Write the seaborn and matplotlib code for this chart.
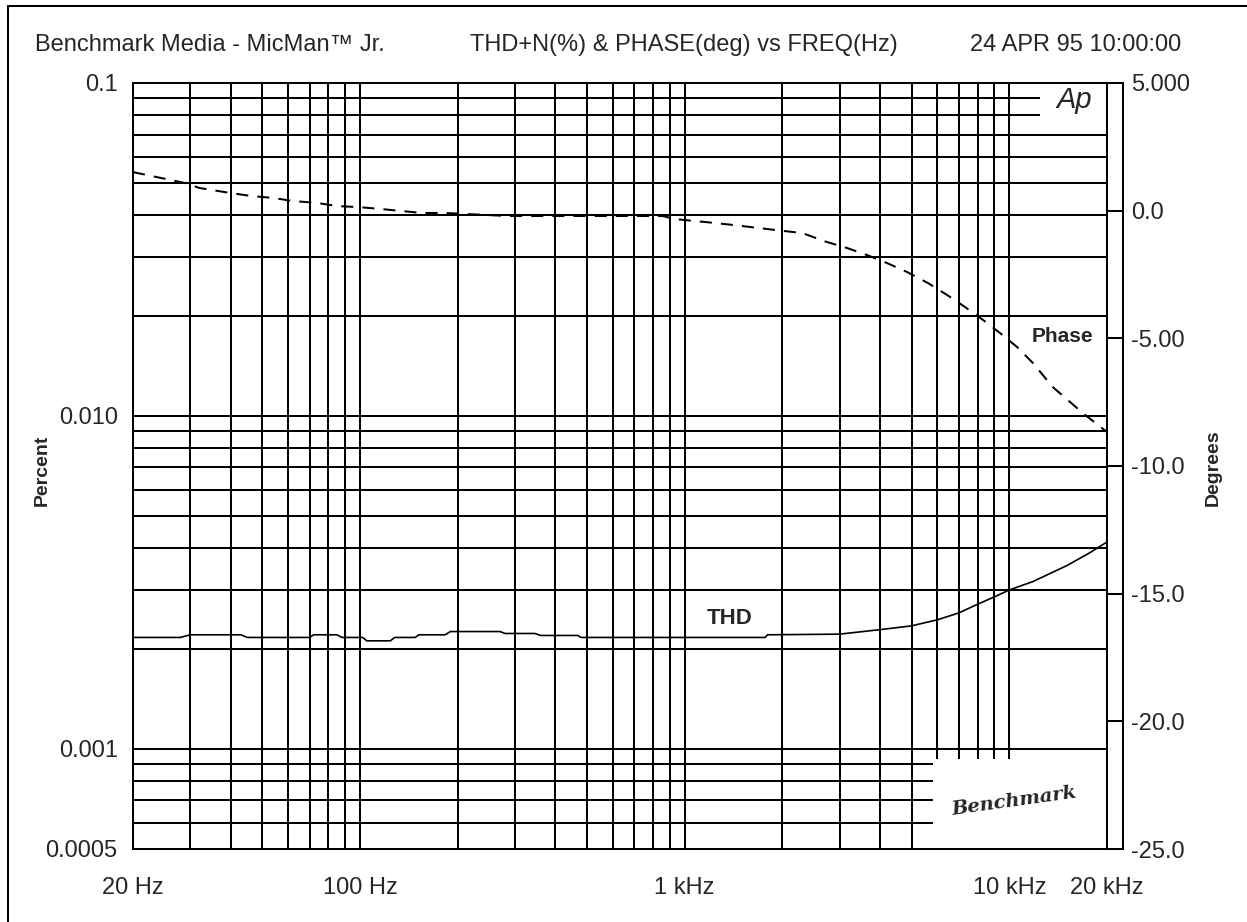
import numpy as np
import pandas as pd
import matplotlib
matplotlib.use("Agg")
import matplotlib.pyplot as plt
import seaborn as sns
from matplotlib.ticker import FixedLocator, LogLocator, NullFormatter, FixedFormatter
from matplotlib.lines import Line2D
from matplotlib.patches import Rectangle

# ---------------- data ----------------
thd_freq = [20, 28, 30, 43, 45, 70, 72, 85, 88, 102, 105, 124, 128, 148, 152, 183, 190, 270,
            280, 346, 360, 469, 480, 1770, 1800, 3000, 4000, 5000, 6000, 7000, 8000, 9000,
            10000, 11830, 15040, 17700, 20000]
thd_pct = [0.00216, 0.00216, 0.00220, 0.00220, 0.00216, 0.00216, 0.00220, 0.00220, 0.00216,
           0.00216, 0.00211, 0.00211, 0.00216, 0.00216, 0.00220, 0.00220, 0.00225, 0.00225,
           0.00222, 0.00222, 0.00219, 0.00219, 0.00216, 0.00216, 0.00220, 0.00221, 0.00228,
           0.00234, 0.00244, 0.00256, 0.00272, 0.00286, 0.00300, 0.00318, 0.00355, 0.00388,
           0.00418]

phase_freq = [20, 29, 32, 40, 46.5, 54, 62, 74, 85, 99, 115, 155, 183, 286, 493, 857, 934,
              1170, 1410, 1800, 2310, 2700, 3160, 3650, 4200, 4840, 5610, 6430, 7300, 8300,
              9360, 10570, 11830, 13620, 16860, 20000]
phase_deg = [1.51, 1.08, 0.89, 0.69, 0.57, 0.50, 0.38, 0.30, 0.18, 0.14, 0.07, -0.09, -0.09,
             -0.21, -0.21, -0.21, -0.33, -0.45, -0.56, -0.72, -0.88, -1.20, -1.46, -1.74,
             -2.05, -2.40, -2.83, -3.30, -3.77, -4.28, -4.79, -5.34, -5.97, -6.91, -7.93, -8.67]

x_ticks = [20, 100, 1000, 10000, 20000]
x_ticklabels = ["20 Hz", "100 Hz", "1 kHz", "10 kHz", "20 kHz"]
y_ticks = [0.0005, 0.001, 0.01, 0.1]
y_ticklabels = ["0.0005", "0.001", "0.010", "0.1"]
y2_ticks = [-25, -20, -15, -10, -5, 0, 5]
y2_ticklabels = ["-25.0", "-20.0", "-15.0", "-10.0", "-5.00", "0.0", "5.000"]

# ---------------- style ----------------
sns.set_style("white")
plt.rcParams["font.family"] = ["Liberation Sans", "DejaVu Sans"]
LW = 1.45
FS = 17

W, H = 1247, 922
fig = plt.figure(figsize=(W / 100, H / 100), dpi=100)
L, R, T, B = 133, 1107, 83, 849
ax = fig.add_axes([L / W, 1 - B / H, (R - L) / W, (B - T) / H])

thd_df = pd.DataFrame({"freq": thd_freq, "pct": thd_pct})
ph_df = pd.DataFrame({"freq": phase_freq, "deg": phase_deg})

ax.set_xscale("log")
ax.set_yscale("log")
ax.set_xlim(20, 20000)
ax.set_ylim(0.0005, 0.1)

sns.lineplot(data=thd_df, x="freq", y="pct", ax=ax, color="black", lw=1.2, zorder=3)

ax.xaxis.set_major_locator(FixedLocator(x_ticks))
ax.xaxis.set_major_formatter(FixedFormatter(x_ticklabels))
ax.xaxis.set_minor_locator(LogLocator(base=10, subs=np.arange(1, 10), numticks=50))
ax.xaxis.set_minor_formatter(NullFormatter())
ax.yaxis.set_major_locator(FixedLocator(y_ticks))
ax.yaxis.set_major_formatter(FixedFormatter(y_ticklabels))
ax.yaxis.set_minor_locator(LogLocator(base=10, subs=np.arange(1, 10), numticks=50))
ax.yaxis.set_minor_formatter(NullFormatter())
ax.tick_params(which="both", length=0)
ax.tick_params(axis="x", pad=20, labelsize=FS)
ax.tick_params(axis="y", pad=11, labelsize=FS)
ax.grid(which="both", color="black", lw=LW, zorder=0.5)
ax.set_axisbelow(True)
ax.set_xlabel("")
ax.set_ylabel("")
for s in ax.spines.values():
    s.set_color("black")
    s.set_linewidth(LW)

# white boxes (logo areas) covering the grid
ax.add_patch(Rectangle((0.931, 0.942), 0.069, 0.058, transform=ax.transAxes,
                       facecolor="white", edgecolor="none", zorder=1))
ax.add_patch(Rectangle((0.821, 0.0), 0.179, 0.118, transform=ax.transAxes,
                       facecolor="white", edgecolor="none", zorder=1))
ax.text(0.966, 0.978, "Ap", transform=ax.transAxes, ha="center", va="center",
        fontsize=21, fontstyle="italic", zorder=4)
ax.text(0.905, 0.062, "Benchmark", transform=ax.transAxes, ha="center", va="center",
        fontsize=14, fontstyle="italic", fontweight="bold", rotation=8,
        family=["DejaVu Serif"], zorder=4)

# right axis (phase)
ax2 = ax.twinx()
ax2.set_ylim(-25, 5)
sns.lineplot(data=ph_df, x="freq", y="deg", ax=ax2, color="black", lw=LW,
             linestyle=(0, (6, 4.5)), zorder=3)
ax2.set_xlim(20, 20000)
ax2.set_ylabel("")
ax2.set_yticks(y2_ticks)
ax2.set_yticklabels(y2_ticklabels)
off = 16 * 72 / 100
ax2.spines["right"].set_position(("outward", off))
for k in ["left", "top", "bottom"]:
    ax2.spines[k].set_visible(False)
ax2.spines["right"].set_linewidth(LW)
ax2.spines["right"].set_color("black")
ax2.tick_params(axis="y", direction="in", length=off, width=LW, pad=6,
                labelsize=FS, color="black")
ax2.tick_params(which="minor", length=0)
for yy in (0, 1):
    ax2.add_line(Line2D([1, 1 + 16 / (R - L)], [yy, yy], transform=ax2.transAxes,
                        color="black", lw=LW, clip_on=False))

ax2.text(14600, -4.91, "Phase", ha="center", va="center", fontsize=15,
         fontweight="bold", zorder=5)
ax.text(1379, 0.00247, "THD", ha="center", va="center", fontsize=16,
        fontweight="bold", zorder=5)

# header texts
ty = 1 - 45 / H
fig.text(35 / W, ty, "Benchmark Media - MicMan™ Jr.", fontsize=FS, va="center", ha="left")
fig.text(470 / W, ty, "THD+N(%) & PHASE(deg) vs FREQ(Hz)", fontsize=FS, va="center", ha="left")
fig.text(970 / W, ty, "24 APR 95 10:00:00", fontsize=FS, va="center", ha="left")

# axis titles
fig.text(42 / W, 1 - 470 / H, "Percent", rotation=90, fontsize=14, fontweight="bold",
         ha="center", va="center")
fig.text(1213 / W, 1 - 468 / H, "Degrees", rotation=90, fontsize=14, fontweight="bold",
         ha="center", va="center")

# outer frame (left and top visible)
fig.add_artist(Line2D([8 / W, 8 / W], [0, 1 - 6 / H], color="black", lw=LW))
fig.add_artist(Line2D([8 / W, 1], [1 - 6 / H, 1 - 6 / H], color="black", lw=LW))

fig.savefig("out.png", dpi=100)
